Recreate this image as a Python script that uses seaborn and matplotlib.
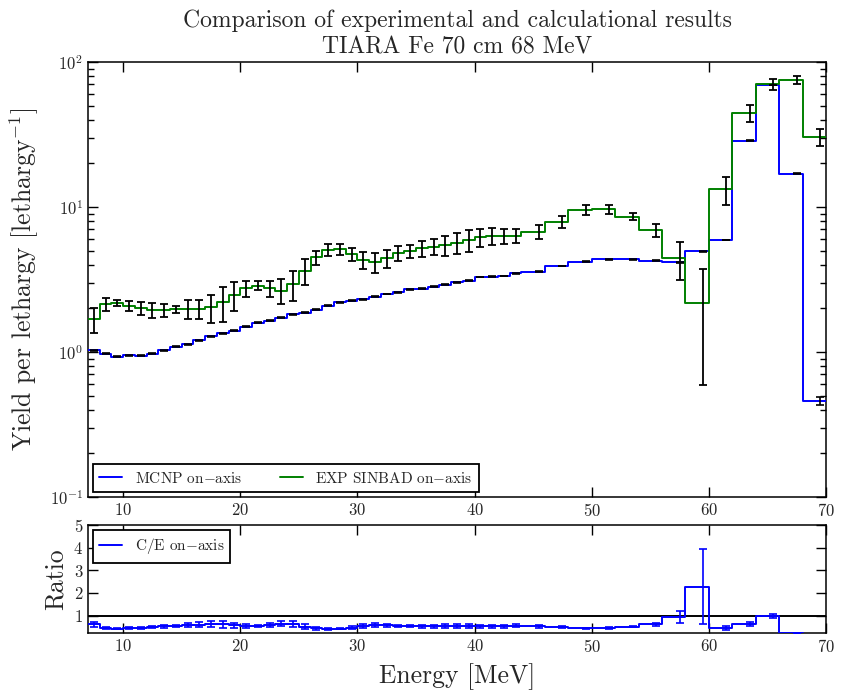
import numpy as np
import pandas as pd
import matplotlib
matplotlib.use("Agg")
import matplotlib.pyplot as plt
import seaborn as sns

# Energy bin edges [MeV]: 1 MeV bins from 7 to 44 MeV, 2 MeV bins from 44 to 70 MeV
edges = np.array(list(range(7, 45)) + list(range(46, 71, 2)), dtype=float)

# MCNP calculated yield per lethargy (on-axis)
mcnp = [1.03, 0.97, 0.93, 0.95, 0.94, 0.97, 1.03, 1.09, 1.13, 1.20,
        1.28, 1.35, 1.40, 1.49, 1.59, 1.64, 1.72, 1.82, 1.87, 1.95,
        2.09, 2.20, 2.25, 2.31, 2.40, 2.51, 2.58, 2.71, 2.73, 2.82,
        2.90, 3.02, 3.09, 3.29, 3.30, 3.34, 3.49,
        3.58, 3.92, 4.20, 4.35, 4.35, 4.26, 4.15, 4.94, 5.92, 28.6,
        69.4, 16.9, 0.46]
mcnp_err = [0.008, 0.007, 0.007, 0.007, 0.007, 0.007, 0.008, 0.008, 0.008, 0.009,
            0.009, 0.010, 0.010, 0.011, 0.011, 0.012, 0.012, 0.013, 0.013, 0.014,
            0.015, 0.016, 0.016, 0.016, 0.017, 0.018, 0.018, 0.019, 0.019, 0.020,
            0.020, 0.021, 0.022, 0.023, 0.023, 0.023, 0.024,
            0.025, 0.027, 0.029, 0.030, 0.030, 0.030, 0.029, 0.035, 0.041, 0.20,
            0.49, 0.12, 0.030]

# SINBAD experimental yield per lethargy (on-axis) and its uncertainty
exp = [1.68, 2.14, 2.19, 2.08, 2.00, 1.94, 1.94, 1.98, 1.98, 1.98,
       2.03, 2.20, 2.47, 2.75, 2.87, 2.75, 2.65, 2.93, 3.63, 4.50,
       5.07, 5.10, 4.74, 4.31, 4.16, 4.43, 4.79, 4.98, 5.19, 5.33,
       5.47, 5.67, 5.92, 6.17, 6.30, 6.30, 6.30,
       6.76, 7.93, 9.53, 9.64, 8.58, 6.94, 4.43, 2.17, 13.2, 44.3,
       70.2, 75.2, 30.3]
exp_err = [0.33, 0.22, 0.10, 0.16, 0.21, 0.23, 0.20, 0.11, 0.29, 0.30,
           0.45, 0.60, 0.55, 0.36, 0.20, 0.36, 0.52, 0.68, 0.74, 0.50,
           0.50, 0.45, 0.47, 0.60, 0.68, 0.64, 0.55, 0.52, 0.65, 0.70,
           0.85, 0.90, 1.00, 0.85, 0.85, 0.75, 0.70,
           0.70, 0.75, 0.75, 0.65, 0.50, 0.75, 1.28, 1.58, 2.80, 5.90,
           5.75, 5.00, 4.00]

x_ticks = [10, 20, 30, 40, 50, 60, 70]
ratio_ticks = [1, 2, 3, 4, 5]

mcnp = np.array(mcnp)
mcnp_err = np.array(mcnp_err)
exp = np.array(exp)
exp_err = np.array(exp_err)

# C/E ratio with propagated uncertainty
ratio = mcnp / exp
ratio_err = ratio * np.sqrt((exp_err / exp) ** 2 + (mcnp_err / mcnp) ** 2)

# error bars sit half an MeV below each bin's upper edge
bar_x = edges[1:] - 0.5


def step_frame(vals):
    return pd.DataFrame({"E": edges, "y": np.append(vals, vals[-1])})


sns.set_style("ticks")
plt.rcParams["font.family"] = ["cmr10", "DejaVu Serif"]
plt.rcParams["mathtext.fontset"] = "cm"
plt.rcParams["axes.formatter.use_mathtext"] = True
plt.rcParams["axes.linewidth"] = 1.1
plt.rcParams["axes.edgecolor"] = "black"

fig = plt.figure(figsize=(8.42, 6.91), dpi=100)
ax = fig.add_axes([0.1045, 0.2808, 0.8765, 0.6295])
axr = fig.add_axes([0.1045, 0.0835, 0.8765, 0.1567])

BLUE = "#0000ff"
GREEN = "#008000"

# ---- main panel: spectra ----
ax.set_yscale("log")
sns.lineplot(data=step_frame(mcnp), x="E", y="y", ax=ax, color=BLUE, lw=1.4,
             drawstyle="steps-post", estimator=None, sort=False, zorder=3)
sns.lineplot(data=step_frame(exp), x="E", y="y", ax=ax, color=GREEN, lw=1.4,
             drawstyle="steps-post", estimator=None, sort=False, zorder=3)
ax.errorbar(bar_x, mcnp, yerr=mcnp_err, fmt="none", ecolor="black",
            elinewidth=1.2, capsize=3, capthick=1.2, zorder=4)
ax.errorbar(bar_x, exp, yerr=exp_err, fmt="none", ecolor="black",
            elinewidth=1.3, capsize=3, capthick=1.3, zorder=4)

ax.set_xlim(7, 70)
ax.set_ylim(0.1, 100)
ax.set_xticks(x_ticks)
ax.set_xlabel("")
ax.set_ylabel(r"Yield per lethargy [lethargy$^{-1}$]", fontsize=18.5, labelpad=6)
ax.set_title("Comparison of experimental and calculational results\nTIARA Fe 70 cm 68 MeV",
             fontsize=17, linespacing=1.25, pad=6)

h1, = ax.plot([], [], color=BLUE, lw=1.4)
h2, = ax.plot([], [], color=GREEN, lw=1.4)
leg = ax.legend([h1, h2], [r"MCNP on$-$axis", r"EXP SINBAD on$-$axis"],
                loc="lower left", ncol=2, fontsize=11, frameon=True, fancybox=False,
                handlelength=1.5, columnspacing=2.5, borderaxespad=0.35,
                borderpad=0.4)
leg.get_frame().set_edgecolor("black")
leg.get_frame().set_linewidth(1.3)
leg.get_frame().set_alpha(1)

# ---- ratio panel: C/E ----
sns.lineplot(data=step_frame(ratio), x="E", y="y", ax=axr, color=BLUE, lw=1.4,
             drawstyle="steps-post", estimator=None, sort=False, zorder=3)
axr.errorbar(bar_x, ratio, yerr=ratio_err, fmt="none", ecolor=BLUE,
             elinewidth=1.2, capsize=3, capthick=1.2, zorder=4)
axr.axhline(1.0, color="black", lw=1.4, zorder=2)

axr.set_xlim(7, 70)
axr.set_ylim(0.22, 5)
axr.set_xticks(x_ticks)
axr.set_yticks(ratio_ticks)
axr.set_xlabel("Energy [MeV]", fontsize=18.5, labelpad=6)
axr.set_ylabel("Ratio", fontsize=18.5, labelpad=4)

hr, = axr.plot([], [], color=BLUE, lw=1.4)
legr = axr.legend([hr], [r"C/E on$-$axis"], loc="upper left", fontsize=11,
                  frameon=True, fancybox=False, handlelength=1.5,
                  borderaxespad=0.35, borderpad=0.4)
legr.get_frame().set_edgecolor("black")
legr.get_frame().set_linewidth(1.3)
legr.get_frame().set_alpha(1)

for a in (ax, axr):
    a.tick_params(which="both", direction="in", top=True, right=True,
                  labelsize=12, color="black")
    a.tick_params(which="major", length=7, width=1)
    a.tick_params(which="minor", length=4, width=1)
    for s in a.spines.values():
        s.set_visible(True)
        s.set_color("black")
axr.yaxis.set_minor_locator(plt.NullLocator())
ax.xaxis.set_minor_locator(plt.NullLocator())
axr.xaxis.set_minor_locator(plt.NullLocator())

fig.savefig("out.png", dpi=100)
